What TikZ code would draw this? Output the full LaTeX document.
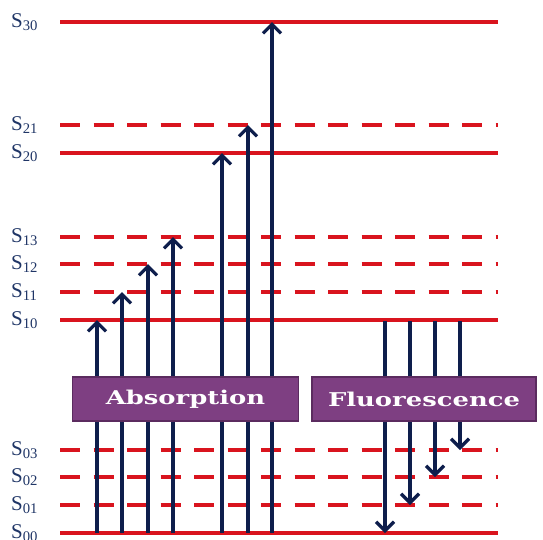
\documentclass[tikz,border=0pt]{standalone}
\usepackage{fontspec}
\setmainfont{Liberation Serif}
\newfontfamily\boxfont{DejaVu Serif}
\usepackage{graphicx}
\usetikzlibrary{arrows.meta, positioning, calc}
\definecolor{LevelRed}{HTML}{D9141E}
\definecolor{Navy}{HTML}{0E1E4C}
\definecolor{LabelBlue}{HTML}{1F3566}
\definecolor{Plum}{HTML}{7E3F82}
\definecolor{PlumDark}{HTML}{5B2B5F}
\newcommand\widetext[1]{\scalebox{1.36}[1]{#1}}

\begin{document}
\begin{tikzpicture}[x=1pt, y=-1pt,
    lvl/.style={draw=LevelRed, line width=4pt},
    sublvl/.style={lvl, dash pattern=on 20pt off 13.5pt},
    lbl/.style={anchor=base west, text=LabelBlue, inner sep=0pt,
                font=\fontsize{21}{21}\selectfont},
    arr/.style={draw=Navy, line width=3.2pt,
                -{Straight Barb[length=9pt, width=18pt]}},
    pbox/.style={rectangle, fill=Plum, draw=PlumDark, line width=1.2pt,
                 minimum height=44pt, inner sep=0pt, text=white,
                 font=\boxfont\bfseries\fontsize{19}{19}\selectfont}
  ]
  \useasboundingbox (0,0) rectangle (543,539);

  \foreach \lv/\y/\sty in {30/22/lvl, 21/125/sublvl, 20/153/lvl, 13/237/sublvl,
      12/264/sublvl, 11/292/sublvl, 10/320/lvl, 03/450/sublvl, 02/477/sublvl,
      01/505/sublvl, 00/533/lvl} {
    \coordinate (s\lv) at (60,\y);
    \coordinate (e\lv) at (498,\y);
    \draw[\sty] (s\lv) -- (e\lv);
    \node[lbl] (l\lv) at (11,\y+5) {S\textsubscript{\lv}};
  }

  \foreach \x/\to in {97/10, 122/11, 148/12, 173/13, 222/20, 248/21, 272/30} {
    \coordinate (up\x) at (\x,0);
    \draw[arr] (up\x |- s00) -- (up\x |- s\to);
  }

  \foreach \x/\to in {385/00, 410/01, 435/02, 460/03} {
    \coordinate (dn\x) at (\x,0);
    \draw[arr] ($(dn\x |- s10)+(0,1)$) -- (dn\x |- s\to);
  }

  \node[pbox, minimum width=226pt] (absorb) at (185.5,399) {\widetext{Absorption}};
  \node[pbox, minimum width=224pt] (fluor) at (424,399) {\widetext{Fluorescence}};
\end{tikzpicture}
\end{document}
